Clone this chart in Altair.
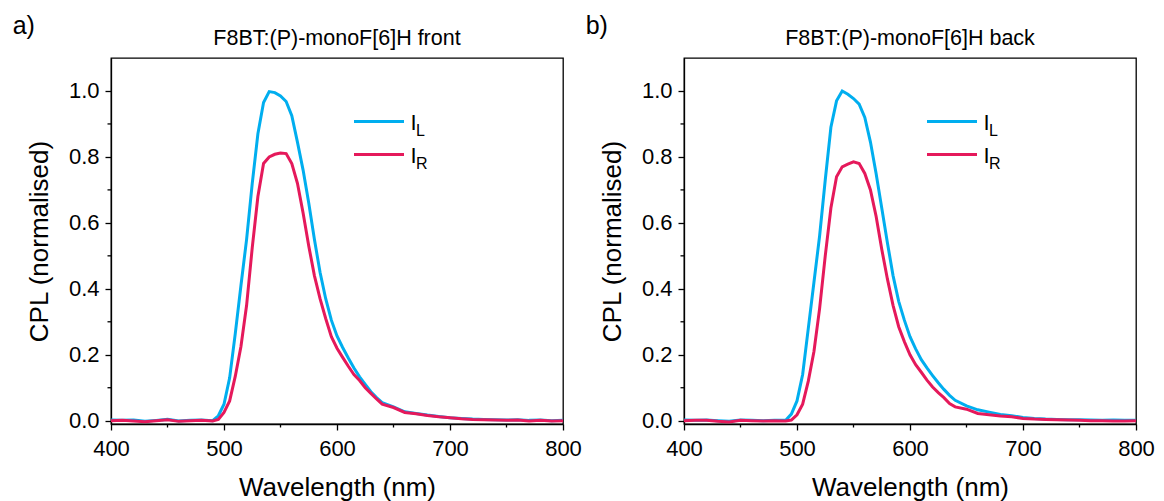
import altair as alt
import pandas as pd

# ---------------- data ----------------
wl = [400, 410, 420, 430, 440, 450, 460, 470, 480, 490, 495, 500, 505, 510, 515,
      520, 525, 530, 535, 540, 545, 550, 555, 560, 565, 570, 575, 580, 585, 590,
      595, 600, 605, 610, 615, 620, 625, 630, 635, 640, 650, 660, 670, 680, 690,
      700, 710, 720, 730, 740, 750, 760, 770, 780, 790, 800]

front_IL = [0.002, 0.001, 0.002, -0.002, 0.001, 0.004, -0.001, 0.001, 0.002, 0.000,
            0.015, 0.050, 0.130, 0.265, 0.410, 0.550, 0.720, 0.870, 0.965, 0.998,
            0.995, 0.985, 0.968, 0.925, 0.845, 0.760, 0.660, 0.550, 0.450, 0.370,
            0.305, 0.257, 0.222, 0.190, 0.160, 0.133, 0.110, 0.088, 0.070, 0.055,
            0.042, 0.027, 0.022, 0.017, 0.013, 0.009, 0.007, 0.005, 0.004, 0.003,
            0.002, 0.003, 0.001, 0.002, 0.000, 0.001]
front_IR = [0.000, 0.001, -0.001, -0.003, 0.000, 0.003, -0.002, 0.000, 0.001, -0.001,
            0.004, 0.025, 0.060, 0.135, 0.225, 0.350, 0.525, 0.680, 0.780, 0.800,
            0.808, 0.812, 0.810, 0.780, 0.720, 0.630, 0.530, 0.440, 0.370, 0.310,
            0.255, 0.220, 0.192, 0.165, 0.140, 0.122, 0.100, 0.083, 0.066, 0.050,
            0.040, 0.025, 0.021, 0.016, 0.012, 0.009, 0.006, 0.004, 0.003, 0.002,
            0.001, 0.002, -0.001, 0.001, -0.001, 0.000]
back_IL = [0.002, 0.001, 0.002, 0.000, -0.002, 0.002, 0.001, 0.000, 0.001, 0.001,
           0.020, 0.060, 0.140, 0.280, 0.420, 0.560, 0.730, 0.890, 0.970, 1.000,
           0.990, 0.977, 0.960, 0.920, 0.845, 0.750, 0.645, 0.540, 0.440, 0.362,
           0.305, 0.255, 0.218, 0.185, 0.160, 0.137, 0.115, 0.095, 0.077, 0.062,
           0.045, 0.033, 0.026, 0.019, 0.015, 0.010, 0.007, 0.005, 0.004, 0.003,
           0.003, 0.002, 0.001, 0.002, 0.001, 0.001]
back_IR = [0.000, 0.001, 0.001, -0.002, -0.004, 0.001, 0.000, -0.001, 0.000, -0.001,
           0.002, 0.018, 0.050, 0.120, 0.210, 0.340, 0.500, 0.645, 0.740, 0.770,
           0.778, 0.785, 0.780, 0.750, 0.700, 0.620, 0.520, 0.430, 0.350, 0.285,
           0.240, 0.200, 0.170, 0.147, 0.123, 0.102, 0.085, 0.070, 0.052, 0.042,
           0.035, 0.022, 0.018, 0.014, 0.012, 0.007, 0.005, 0.004, 0.003, 0.002,
           0.001, 0.000, 0.000, -0.001, -0.001, 0.000]

series_names = ["IL", "IR"]
series_subs = ["L", "R"]
series_colors = ["#00AEEF", "#E5195B"]
panel_titles = ["F8BT:(P)-monoF[6]H front", "F8BT:(P)-monoF[6]H back"]
panel_labels = ["a)", "b)"]
x_major = [400, 500, 600, 700, 800]
x_minor = [450, 550, 650, 750]
y_major = [0.0, 0.2, 0.4, 0.6, 0.8, 1.0]
y_minor = [0.1, 0.3, 0.5, 0.7, 0.9]

FONT = "Liberation Sans"
W, H = 452, 366


def panel(il, ir, title, label):
    df = pd.DataFrame({
        "wl": wl * 2,
        "val": il + ir,
        "series": ["IL"] * len(wl) + ["IR"] * len(wl),
    })
    xs = alt.Scale(domain=[400, 800], nice=False, zero=False, padding=0)
    ys = alt.Scale(domain=[-0.01, 1.1], nice=False, zero=False, padding=0)
    lines = alt.Chart(df).mark_line(strokeWidth=3).encode(
        x=alt.X("wl:Q", scale=xs,
                axis=alt.Axis(values=x_major, title="Wavelength (nm)", grid=False,
                              labelFlush=False, labelPadding=8, titlePadding=15)),
        y=alt.Y("val:Q", scale=ys,
                axis=alt.Axis(values=y_major, format=".1f", title="CPL (normalised)",
                              grid=False, labelFlush=False, labelPadding=6,
                              titlePadding=16)),
        color=alt.Color("series:N", scale=alt.Scale(domain=series_names, range=series_colors),
                        legend=None),
    )
    ymin = alt.Chart(pd.DataFrame({"v": y_minor})).mark_rule(
        color="black", strokeWidth=1.3).encode(
        y=alt.Y("v:Q", scale=ys), x=alt.value(0), x2=alt.value(-3.5))
    xmin = alt.Chart(pd.DataFrame({"v": x_minor})).mark_rule(
        color="black", strokeWidth=1.3).encode(
        x=alt.X("v:Q", scale=xs), y=alt.value(H), y2=alt.value(H + 3.5))

    layers = [lines, ymin, xmin]
    one = pd.DataFrame({"k": [0]})
    for i, (name, sub, col) in enumerate(zip(series_names, series_subs, series_colors)):
        dy = 33 * i
        layers.append(alt.Chart(one).mark_rule(strokeWidth=3, color=col).encode(
            x=alt.value(243), x2=alt.value(293), y=alt.value(63.5 + dy)))
        layers.append(alt.Chart(one).mark_text(
            text="I", fontSize=22, font=FONT, align="left", baseline="alphabetic",
            color="black").encode(x=alt.value(299.5), y=alt.value(71.5 + dy)))
        layers.append(alt.Chart(one).mark_text(
            text=sub, fontSize=16, font=FONT, align="left", baseline="alphabetic",
            color="black").encode(x=alt.value(305), y=alt.value(77.5 + dy)))

    layers.append(alt.Chart(one).mark_text(
        text=title, fontSize=21.5, font=FONT, align="center", baseline="alphabetic",
        color="black").encode(x=alt.value(W / 2), y=alt.value(-12.6)))
    layers.append(alt.Chart(one).mark_text(
        text=label, fontSize=25, font=FONT, align="left", baseline="alphabetic",
        color="black").encode(x=alt.value(-98.3), y=alt.value(-24.3)))

    return alt.layer(*layers).properties(width=W, height=H)


chart = alt.hconcat(
    panel(front_IL, front_IR, panel_titles[0], panel_labels[0]),
    panel(back_IL, back_IR, panel_titles[1], panel_labels[1]),
    spacing=121, bounds="flush",
).properties(
    padding={"left": 4, "top": 5, "right": 0, "bottom": 0}
).configure_view(
    stroke="black", strokeWidth=1.3
).configure_axis(
    domainColor="black", domainWidth=1.3, tickColor="black", tickWidth=1.3, tickSize=6,
    labelFont=FONT, labelFontSize=22, labelColor="black",
    titleFont=FONT, titleFontSize=26, titleColor="black", titleFontWeight="normal",
)

chart.save("out.html", embed_options={"renderer": "svg", "actions": False})
